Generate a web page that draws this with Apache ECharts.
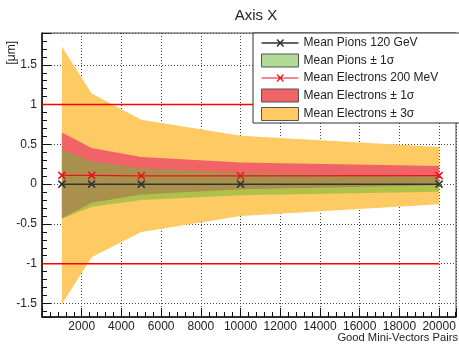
<!DOCTYPE html>
<html><head><meta charset="utf-8">
<script src="https://cdn.jsdelivr.net/npm/echarts@6/dist/echarts.min.js"></script>
<style>html,body{margin:0;padding:0;background:#fff}#c{width:459px;height:351px}</style>
</head><body><div id="c"></div>
<script>
// ---- data ----
const nPairs = [1000, 2500, 5000, 10000, 20000];
const pionMean = [0, 0, 0, 0, 0];
const pionSigma = [0.435, 0.285, 0.2, 0.14, 0.095];
const elecMean = [0.11, 0.11, 0.105, 0.105, 0.107];
const elecSigma = [0.54, 0.343, 0.235, 0.168, 0.12];
const refX = [0, 20000];
const refLevels = [1, -1];
const names = ['Mean Pions 120 GeV', 'Mean Pions \u00b1 1\u03c3', 'Mean Electrons 200 MeV',
               'Mean Electrons \u00b1 1\u03c3', 'Mean Electrons \u00b1 3\u03c3'];

const FONT = '"Liberation Sans", Arial, Helvetica, sans-serif';
const GREEN = 'rgba(104,184,54,0.52)';
const ORANGE = '#fdca63', RED = '#f06468';
const ELEC = '#e8141c', PION = '#333333';
const CROSS = 'path://M0,0L10,10M10,0L0,10';
const LEG_LINE_ICON = 'path://M0,6.5L37,6.5M15.5,3L22,10M22,3L15.5,10';

function band(name, mean, sigma, k, color, z) {
  const d = nPairs.map((x, i) => [x, mean[i] - k * sigma[i], mean[i] + k * sigma[i]]);
  return {
    type: 'custom', name, z, silent: true, data: d, encode: {x: 0, y: [1, 2]},
    itemStyle: {color},
    renderItem(params, api) {
      if (params.dataIndex !== 0) return;
      const up = d.map(p => api.coord([p[0], p[2]]));
      const lo = d.map(p => api.coord([p[0], p[1]])).reverse();
      return {type: 'polygon', shape: {points: up.concat(lo)}, style: {fill: color}};
    }
  };
}
function meanLine(name, mean, color, lw) {
  return {
    type: 'line', name, z: 3, data: nPairs.map((x, i) => [x, mean[i]]),
    symbol: CROSS, symbolSize: 7, showSymbol: true,
    lineStyle: {color, width: lw}, itemStyle: {color, borderColor: color, borderWidth: 1.5}
  };
}
const refSeries = refLevels.map(v => ({
  type: 'line', z: 3, silent: true, symbol: 'none',
  data: refX.map(x => [x, v]), lineStyle: {color: '#ff0000', width: 1.5}
}));

const axisCommon = {
  type: 'value',
  axisLine: {show: true, onZero: false, lineStyle: {color: '#111', width: 1.5}},
  axisTick: {show: true, inside: true, length: 9, lineStyle: {color: '#111'}},
  minorTick: {show: true, splitNumber: 5, length: 5, lineStyle: {color: '#111'}},
  splitLine: {show: true, lineStyle: {type: [1, 2], color: '#444', width: 1}},
};

const chart = echarts.init(document.getElementById('c'), null, {renderer: 'canvas'});
chart.setOption({
  animation: false,
  title: {text: 'Axis X', left: 251, top: 3, textAlign: 'center',
          textStyle: {fontSize: 15, fontWeight: 'normal', color: '#222', fontFamily: FONT}},
  grid: {left: 42, right: 0, top: 33, bottom: 34, show: true, borderColor: '#444', borderWidth: 1},
  xAxis: Object.assign({}, axisCommon, {
    min: 0, max: 20850, splitNumber: 10,
    axisLabel: {fontSize: 12, color: '#222', fontFamily: FONT, margin: 4,
      formatter: v => (v > 0 && Math.abs(v % 2000) < 1e-6) ? String(v) : ''}
  }),
  yAxis: Object.assign({}, axisCommon, {
    min: -1.67, max: 1.9, splitNumber: 7,
    axisLabel: {fontSize: 12, color: '#222', fontFamily: FONT, margin: 5,
      formatter: v => Math.abs(v * 2 - Math.round(v * 2)) < 1e-6 ? String(Math.round(v * 2) / 2) : ''}
  }),
  legend: {
    orient: 'vertical', left: 253, top: 33, padding: [4, 80, 2, 6], itemGap: 4.5,
    itemWidth: 37, itemHeight: 13, backgroundColor: '#fff', borderColor: '#333', borderWidth: 1,
    textStyle: {fontSize: 12, color: '#222', fontFamily: FONT},
    data: [
      {name: names[0], icon: LEG_LINE_ICON, itemStyle: {color: 'none', borderColor: PION, borderWidth: 1.5}},
      {name: names[1], icon: 'rect', itemStyle: {color: GREEN, borderColor: '#555', borderWidth: 1}},
      {name: names[2], icon: LEG_LINE_ICON, itemStyle: {color: 'none', borderColor: ELEC, borderWidth: 1.2}},
      {name: names[3], icon: 'rect', itemStyle: {borderColor: '#555', borderWidth: 1}},
      {name: names[4], icon: 'rect', itemStyle: {borderColor: '#555', borderWidth: 1}}
    ]
  },
  graphic: [
    {type: 'text', right: 1, top: 332, style: {text: 'Good Mini-Vectors Pairs', fontSize: 11.2, fontFamily: FONT, fill: '#222'}},
    {type: 'text', x: 12, y: 41, rotation: Math.PI / 2,
     style: {text: '[\u03bcm]', fontSize: 12, fontFamily: FONT, fill: '#222', align: 'right', verticalAlign: 'middle'}}
  ],
  series: [
    band(names[4], elecMean, elecSigma, 3, ORANGE, 2),
    band(names[3], elecMean, elecSigma, 1, RED, 2),
    band(names[1], pionMean, pionSigma, 1, GREEN, 2),
    ...refSeries,
    meanLine(names[2], elecMean, ELEC, 1.2),
    meanLine(names[0], pionMean, PION, 1.5)
  ]
});
</script></body></html>
